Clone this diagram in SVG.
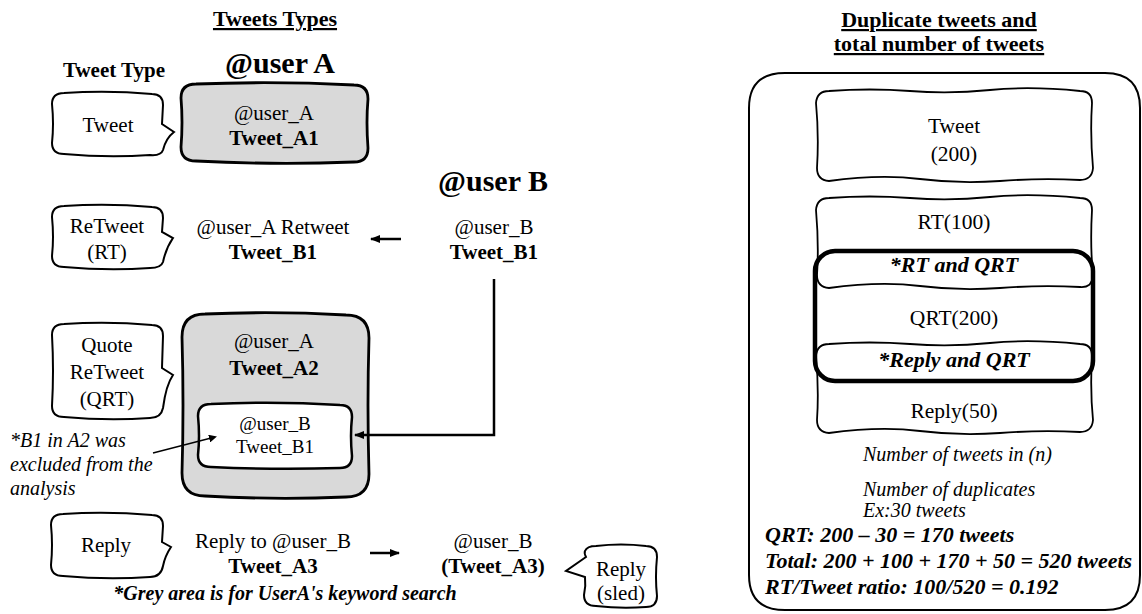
<svg xmlns="http://www.w3.org/2000/svg" width="1142" height="614" viewBox="0 0 1142 614" font-family="'Liberation Serif', 'DejaVu Serif', serif">
<defs>
<style>
text{font-family:'Liberation Serif','DejaVu Serif',serif;fill:#000}
.t{font-size:21px}
.b{font-size:21px;font-weight:bold}
.r{font-size:21.5px}
.big{font-size:30px;font-weight:bold}
.title{font-size:22px;font-weight:bold;text-decoration:underline}
.it{font-size:20px;font-style:italic}
.bi{font-size:20px;font-style:italic;font-weight:bold}
.bi2{font-size:22px;font-style:italic;font-weight:bold}
.m{text-anchor:middle}
.bub{fill:#fff;stroke:#000;stroke-width:2}
.grey{fill:#d9d9d9;stroke:#000;stroke-width:2.8}
.wbox{fill:#fff;stroke:#000;stroke-width:1.8}
.conn{fill:none;stroke:#000;stroke-width:2.5}
.thin{fill:none;stroke:#000;stroke-width:1.5}
</style>
<marker id="ah" markerWidth="8" markerHeight="8" refX="6" refY="4" orient="auto" markerUnits="userSpaceOnUse">
<path d="M0,0 L8,4 L0,8 Z" fill="#000"/>
</marker>
<marker id="ahs" markerWidth="10" markerHeight="8" refX="9" refY="4" orient="auto" markerUnits="userSpaceOnUse">
<path d="M0,0 L10,4 L0,8 Z" fill="#000"/>
</marker>
</defs>

<g id="titles">
<text class="title m" x="275" y="26">Tweets Types</text>
<text class="b m" x="114" y="77">Tweet Type</text>
<text class="big m" x="280" y="73">@user A</text>
<text class="big m" x="493" y="191">@user B</text>
<text class="title m" x="939" y="27">Duplicate tweets and</text>
<text class="title m" x="939" y="51">total number of tweets</text>
</g>

<g id="bubble-tweet">
<path class="bub" d="M64,93 Q108,90 152,94 Q163,94 163,105 L162,124 L174,132 Q166,138 163,150 Q161,156 150,155 Q108,158 64,154 Q52,154 52,143 Q54,124 52,104 Q52,93 64,93 Z"/>
<text class="t m" x="108" y="132">Tweet</text>
</g>

<g id="bubble-rt">
<path class="bub" d="M64,206 Q108,203 152,207 Q163,207 163,218 L162,232 L173,238 Q166,248 163,262 Q161,268 150,268 Q108,271 64,267 Q52,267 52,256 Q54,237 52,217 Q52,206 64,206 Z"/>
<text class="t m" x="107" y="233">ReTweet</text>
<text class="t m" x="107" y="259">(RT)</text>
</g>

<g id="bubble-qrt">
<path class="bub" d="M64,324 Q108,321 152,325 Q163,325 163,336 L162,368 L173,375 Q166,385 163,408 Q161,418 150,418 Q108,421 64,417 Q52,417 52,406 Q54,371 52,335 Q52,324 64,324 Z"/>
<text class="t m" x="107" y="352">Quote</text>
<text class="t m" x="107" y="379">ReTweet</text>
<text class="t m" x="107" y="406">(QRT)</text>
</g>

<g id="bubble-reply">
<path class="bub" d="M63,514 Q107,511 152,515 Q163,515 163,526 L162,542 L171,547 Q165,556 163,566 Q161,577 150,577 Q107,580 63,576 Q51,576 51,565 Q53,545 51,525 Q51,514 63,514 Z"/>
<text class="t m" x="106" y="552">Reply</text>
</g>

<g id="bubble-sled">
<path class="bub" d="M596,546 Q621,543 646,546 Q657,546 657,557 Q655,577 657,596 Q657,607 646,607 Q621,609 596,606 Q584,606 584,595 Q586,586 585,577 L566,571 L586,557 Q584,553 585,551 Q587,546 596,546 Z"/>
<text class="t m" x="621" y="576">Reply</text>
<text class="t m" x="621" y="600">(sled)</text>
</g>

<g id="tweet-a1">
<path class="grey" d="M196,84 Q275,81 354,85 Q368,85 368,99 Q366,122 368,148 Q368,162 354,162 Q275,165 196,161 Q181,161 181,147 Q183,122 181,98 Q181,84 196,84 Z"/>
<text class="t m" x="274" y="120">@user_A</text>
<text class="b m" x="274" y="145">Tweet_A1</text>
</g>

<g id="retweet-b1">
<text class="t m" x="273" y="234">@user_A Retweet</text>
<text class="b m" x="273" y="259">Tweet_B1</text>
</g>

<g id="tweet-b1">
<text class="t m" x="494" y="234">@user_B</text>
<text class="b m" x="494" y="259">Tweet_B1</text>
</g>

<g id="tweet-a2">
<path class="grey" d="M205,314 Q275,311 346,315 Q369,315 369,338 Q367,405 369,474 Q369,497 346,497 Q275,500 205,496 Q182,496 182,473 Q184,405 182,337 Q182,314 205,314 Z"/>
<text class="t m" x="274" y="348">@user_A</text>
<text class="b m" x="274" y="375">Tweet_A2</text>
</g>

<g id="quoted-b1">
<path class="wbox" style="stroke-width:2.5" d="M211,404 Q275,401 340,405 Q352,405 352,417 Q350,436 352,456 Q352,468 340,468 Q275,470 211,467 Q198,467 198,455 Q200,436 198,416 Q198,404 211,404 Z"/>
<text class="t m" x="275" y="430" style="font-size:19px">@user_B</text>
<text class="t m" x="275" y="453" style="font-size:19px">Tweet_B1</text>
</g>

<g id="note-b1">
<text class="it" x="10" y="447">*B1 in A2 was</text>
<text class="it" x="10" y="471">excluded from the</text>
<text class="it" x="10" y="495">analysis</text>
</g>

<g id="reply-a3">
<text class="t m" x="273" y="548">Reply to @user_B</text>
<text class="b m" x="273" y="573">Tweet_A3</text>
</g>

<g id="user-b-a3">
<text class="t m" x="493" y="548">@user_B</text>
<text class="b m" x="493" y="573">(Tweet_A3)</text>
</g>

<g id="note-grey">
<text class="bi m" x="285" y="600">*Grey area is for UserA's keyword search</text>
</g>

<g id="connectors">
<line class="conn" x1="401" y1="239" x2="371" y2="239" marker-end="url(#ahs)"/>
<path class="conn" d="M494,279 V435 H355" marker-end="url(#ahs)"/>
<line class="thin" x1="153" y1="453" x2="215" y2="437" marker-end="url(#ah)"/>
<line class="conn" x1="370" y1="553" x2="399" y2="553" marker-end="url(#ahs)"/>
</g>

<g id="summary-frame">
<path fill="none" stroke="#000" stroke-width="2" d="M785,73 H1105 Q1140,73 1140,108 V575 Q1140,610 1105,610 H785 Q749,610 749,575 V108 Q749,73 785,73 Z"/>
</g>

<g id="box-tweet">
<path class="wbox" d="M829,91 Q870,88 910,91 T990,90 T1080,91 Q1092,91 1092,103 Q1090,135 1093,168 Q1092,180 1080,180 Q1040,178 1000,181 T920,179 T829,181 Q817,180 817,168 Q819,135 816,103 Q817,91 829,91 Z"/>
<text class="r m" x="954" y="133">Tweet</text>
<text class="r m" x="954" y="161">(200)</text>
</g>

<g id="box-rt">
<path class="wbox" d="M829,198 Q870,195 910,198 T990,197 T1080,198 Q1092,198 1092,210 Q1090,245 1093,276 Q1092,288 1080,287 Q1040,285 1000,288 T920,286 T829,288 Q817,287 817,275 Q819,245 816,210 Q817,198 829,198 Z"/>
<text class="r m" x="954" y="229">RT(100)</text>
</g>

<g id="box-reply">
<path class="wbox" d="M829,344 Q870,341 910,344 T990,343 T1080,344 Q1092,344 1092,356 Q1090,390 1093,420 Q1092,432 1080,432 Q1040,430 1000,433 T920,431 T829,433 Q817,432 817,420 Q819,390 816,356 Q817,344 829,344 Z"/>
<text class="r m" x="954" y="418">Reply(50)</text>
</g>

<g id="box-qrt">
<rect x="815" y="251" width="278" height="130" rx="20" fill="none" stroke="#000" stroke-width="4.5"/>
<text class="bi2 m" x="954" y="272">*RT and QRT</text>
<text class="r m" x="954" y="325">QRT(200)</text>
<text class="bi2 m" x="954" y="367">*Reply and QRT</text>
</g>

<g id="summary-text">
<text class="it" x="863" y="461">Number of tweets in (n)</text>
<text class="it" x="863" y="496">Number of duplicates</text>
<text class="it" x="863" y="517">Ex:30 tweets</text>
<text class="bi2" x="765" y="542">QRT: 200 – 30 = 170 tweets</text>
<text class="bi2" x="765" y="568">Total: 200 + 100 + 170 + 50 = 520 tweets</text>
<text class="bi2" x="765" y="594">RT/Tweet ratio: 100/520 = 0.192</text>
</g>
</svg>
